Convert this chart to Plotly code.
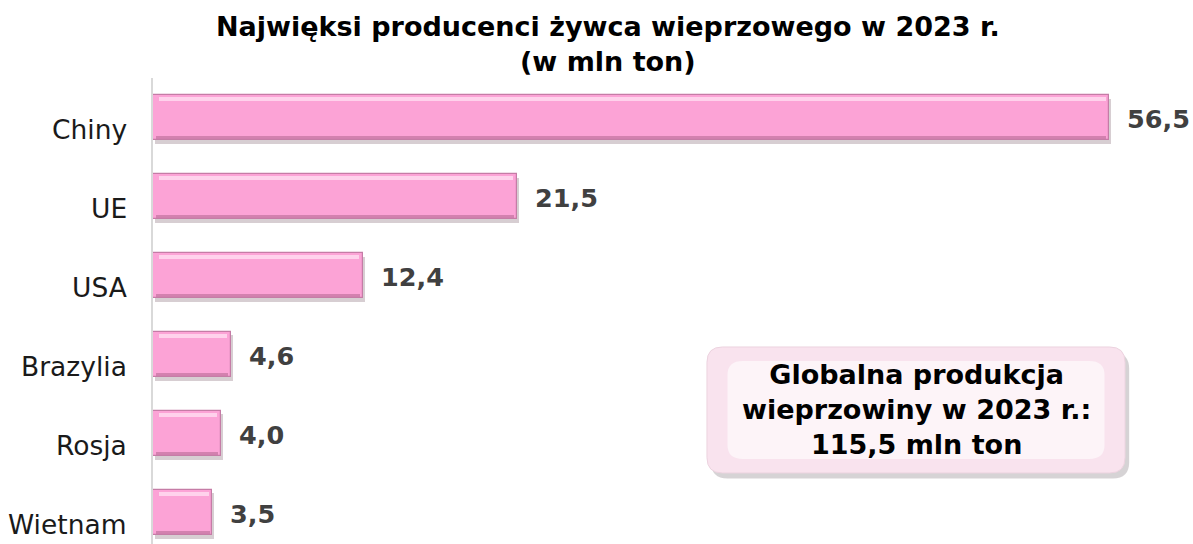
import plotly.graph_objects as go

categories = ["Chiny", "UE", "USA", "Brazylia", "Rosja", "Wietnam"]
values = [56.5, 21.5, 12.4, 4.6, 4.0, 3.5]
value_labels = ["56,5", "21,5", "12,4", "4,6", "4,0", "3,5"]

title_text = "Najwięksi producenci żywca wieprzowego w 2023 r.<br>(w mln ton)"
box_text = "Globalna produkcja<br>wieprzowiny w 2023 r.:<br>115,5 mln ton"

FONT = "DejaVu Sans"
BW = 0.58

fig = go.Figure()

# shadow
fig.add_trace(go.Bar(
    y=categories, x=values, orientation="h", base=0.12,
    width=BW, offset=-BW / 2 + 0.05,
    marker=dict(color="rgba(110,80,95,0.28)", line=dict(width=0)),
    hoverinfo="skip", showlegend=False,
))
# main bar
fig.add_trace(go.Bar(
    y=categories, x=values, orientation="h",
    width=BW, offset=-BW / 2,
    marker=dict(color="#fca3d6", line=dict(color="#c57ca6", width=1.2)),
    showlegend=False,
))
# top highlight
fig.add_trace(go.Bar(
    y=categories, x=[v - 0.55 for v in values], orientation="h", base=0.35,
    width=0.05, offset=-BW / 2 + 0.035,
    marker=dict(color="rgba(255,218,240,0.85)", line=dict(width=0)),
    hoverinfo="skip", showlegend=False,
))
# bottom dark edge
fig.add_trace(go.Bar(
    y=categories, x=[v - 0.3 for v in values], orientation="h", base=0.15,
    width=0.035, offset=BW / 2 - 0.05,
    marker=dict(color="rgba(200,120,165,0.8)", line=dict(width=0)),
    hoverinfo="skip", showlegend=False,
))

annotations = []
for c, v, t in zip(categories, values, value_labels):
    annotations.append(dict(
        x=v, y=c, xref="x", yref="y", text=t, showarrow=False,
        xanchor="left", yanchor="middle", xshift=16, yshift=-2,
        font=dict(family=FONT, size=25.5, color="#404040", weight="bold"),
    ))
    annotations.append(dict(
        x=0, y=c, xref="x", yref="y", text=c, showarrow=False,
        xanchor="right", yanchor="middle", xshift=-24, yshift=-12,
        font=dict(family=FONT, size=26.5, color="#1a1a1a"),
    ))

annotations.append(dict(
    x=0.4426, y=1.072, xref="paper", yref="paper", text=title_text,
    showarrow=False, xanchor="center", yanchor="middle",
    font=dict(family=FONT, size=27, color="#000000", weight="bold"),
))
annotations.append(dict(
    x=0.743, y=0.2886, xref="paper", yref="paper", text=box_text,
    showarrow=False, xanchor="center", yanchor="middle",
    font=dict(family=FONT, size=27, color="#000000", weight="bold"),
))

def rounded_rect(x0, y0, x1, y1, rx, ry):
    return (f"M {x0+rx},{y0} L {x1-rx},{y0} Q {x1},{y0} {x1},{y0+ry} "
            f"L {x1},{y1-ry} Q {x1},{y1} {x1-rx},{y1} L {x0+rx},{y1} "
            f"Q {x0},{y1} {x0},{y1-ry} L {x0},{y0+ry} Q {x0},{y0} {x0+rx},{y0} Z")

bx0, bx1, by0, by1 = 0.5394, 0.9465, 0.1524, 0.4228
shapes = [
    dict(type="path", xref="paper", yref="paper",
         path=rounded_rect(bx0 + 0.004, by0 - 0.012, bx1 + 0.004, by1 - 0.012, 0.016, 0.035),
         fillcolor="rgba(120,110,115,0.30)", line=dict(width=0), layer="below"),
    dict(type="path", xref="paper", yref="paper",
         path=rounded_rect(bx0, by0, bx1, by1, 0.015, 0.033),
         fillcolor="#f9e3ee", line=dict(color="#ecd3df", width=1), layer="below"),
    dict(type="path", xref="paper", yref="paper",
         path=rounded_rect(bx0 + 0.02, by0 + 0.03, bx1 - 0.02, by1 - 0.03, 0.015, 0.03),
         fillcolor="rgba(255,255,255,0.6)", line=dict(width=0), layer="below"),
]

fig.update_layout(
    width=1193, height=544,
    margin=dict(l=153, r=13, t=78, b=0),
    paper_bgcolor="white", plot_bgcolor="white",
    barmode="overlay", bargap=0,
    xaxis=dict(range=[0, 60.7], visible=False, fixedrange=True),
    yaxis=dict(categoryorder="array", categoryarray=categories,
               range=[5.4, -0.5], showticklabels=False, ticks="",
               showline=True, linecolor="#d9d9d9", linewidth=2,
               showgrid=False, zeroline=False, fixedrange=True),
    annotations=annotations, shapes=shapes,
    showlegend=False,
)

fig.write_html("out.html", config={"displayModeBar": False},
               post_script="document.body.style.margin='0';document.body.style.padding='0';")
